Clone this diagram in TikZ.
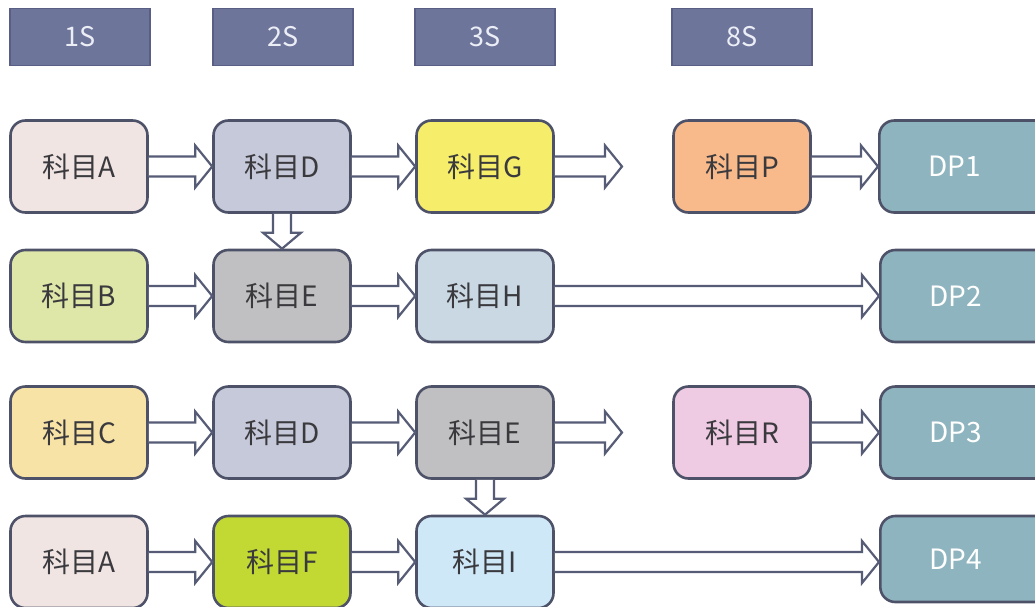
\documentclass[tikz,border=0pt]{standalone}
\usepackage{fontspec}
\setmainfont{Noto Sans CJK SC}
\usetikzlibrary{calc}

\definecolor{edge}{HTML}{4E5268}
\definecolor{arrowline}{HTML}{565B76}
\definecolor{headfill}{HTML}{6E759B}
\definecolor{headedge}{HTML}{585E84}
\definecolor{headtext}{HTML}{ECEEF6}
\definecolor{txt}{HTML}{3A3A3E}
\definecolor{cA}{HTML}{F1E5E3}
\definecolor{cB}{HTML}{DEE6A8}
\definecolor{cC}{HTML}{F8E3A6}
\definecolor{cD}{HTML}{C6C9DA}
\definecolor{cE}{HTML}{C0C0C2}
\definecolor{cF}{HTML}{C2D833}
\definecolor{cG}{HTML}{F6EE6B}
\definecolor{cH}{HTML}{CAD8E4}
\definecolor{cI}{HTML}{CFE8F8}
\definecolor{cP}{HTML}{F9BA8B}
\definecolor{cR}{HTML}{EFCAE3}
\definecolor{cDP}{HTML}{8EB4BF}

\tikzset{
  header/.style={draw=headedge, line width=1.5pt, fill=headfill, text=headtext,
    minimum width=140pt, minimum height=57pt, inner sep=0pt, font=\fontsize{27}{27}\selectfont},
  course/.style={draw=edge, line width=2.6pt, rounded corners=15pt, text=txt,
    minimum width=137pt, minimum height=92pt, inner sep=0pt, font=\fontsize{28}{28}\selectfont},
  dpbox/.style={course, fill=cDP, text=white, minimum width=180pt},
  arr/.style={draw=arrowline, fill=white, line width=2.2pt, line join=miter},
}

% horizontal hollow block arrow from #1 to #2
\newcommand\hconnect[2]{%
  \draw[arr] let \p1=(#1), \p2=(#2) in
    (\x1,\y1+10pt) -- (\x2-17pt,\y1+10pt) -- (\x2-17pt,\y1+21pt) -- (\x2,\y1)
    -- (\x2-17pt,\y1-21pt) -- (\x2-17pt,\y1-10pt) -- (\x1,\y1-10pt);}
% vertical hollow block arrow from #1 down to #2
\newcommand\vconnect[2]{%
  \draw[arr] let \p1=(#1), \p2=(#2) in
    (\x1-9pt,\y1) -- (\x1-9pt,\y2+16pt) -- (\x1-19pt,\y2+16pt) -- (\x1,\y2)
    -- (\x1+19pt,\y2+16pt) -- (\x1+9pt,\y2+16pt) -- (\x1+9pt,\y1);}

\begin{document}
\begin{tikzpicture}[x=1pt,y=-1pt]
\useasboundingbox (0,0) rectangle (1035,607);

% semester headers
\node[header] (s1) at (80,37) {1S};
\node[header] (s2) at (283,37) {2S};
\node[header] (s3) at (485,37) {3S};
\node[header] (s8) at (742,37) {8S};

% row 1
\node[course, fill=cA] (a1) at (79,166.5) {科目A};
\node[course, fill=cD] (d1) at (282,166.5) {科目D};
\node[course, fill=cG] (g1) at (485,166.5) {科目G};
\node[course, fill=cP] (p1) at (742,166.5) {科目P};
\node[dpbox, anchor=west] (dp1) at (878,166.5) {\hspace*{-30pt}DP1};

% row 2
\node[course, fill=cB] (b2) at (79,296) {科目B};
\node[course, fill=cE] (e2) at (282,296) {科目E};
\node[course, fill=cH] (h2) at (485,296) {科目H};
\node[dpbox, anchor=west] (dp2) at (879,296) {\hspace*{-30pt}DP2};

% row 3
\node[course, fill=cC] (c3) at (79,432.5) {科目C};
\node[course, fill=cD] (d3) at (282,432.5) {科目D};
\node[course, fill=cE] (e3) at (485,432.5) {科目E};
\node[course, fill=cR] (r3) at (742,432.5) {科目R};
\node[dpbox, anchor=west] (dp3) at (879,432.5) {\hspace*{-30pt}DP3};

% row 4
\node[course, fill=cA] (a4) at (79,562) {科目A};
\node[course, fill=cF] (f4) at (282,562) {科目F};
\node[course, fill=cI] (i4) at (485,562) {科目I};
\node[dpbox, anchor=west, minimum height=86pt] (dp4) at (879,559) {\hspace*{-30pt}DP4};

% open ends of the unfinished paths
\coordinate (g1end) at (622,166.5);
\coordinate (e3end) at (622,432.5);

% connectors
\hconnect{a1.east}{d1.west}
\hconnect{d1.east}{g1.west}
\hconnect{g1.east}{g1end}
\hconnect{p1.east}{dp1.west}
\vconnect{d1.south}{e2.north}

\hconnect{b2.east}{e2.west}
\hconnect{e2.east}{h2.west}
\hconnect{h2.east}{dp2.west}

\hconnect{c3.east}{d3.west}
\hconnect{d3.east}{e3.west}
\hconnect{e3.east}{e3end}
\hconnect{r3.east}{dp3.west}
\vconnect{e3.south}{i4.north}

\hconnect{a4.east}{f4.west}
\hconnect{f4.east}{i4.west}
\hconnect{i4.east}{dp4.west}
\end{tikzpicture}
\end{document}
